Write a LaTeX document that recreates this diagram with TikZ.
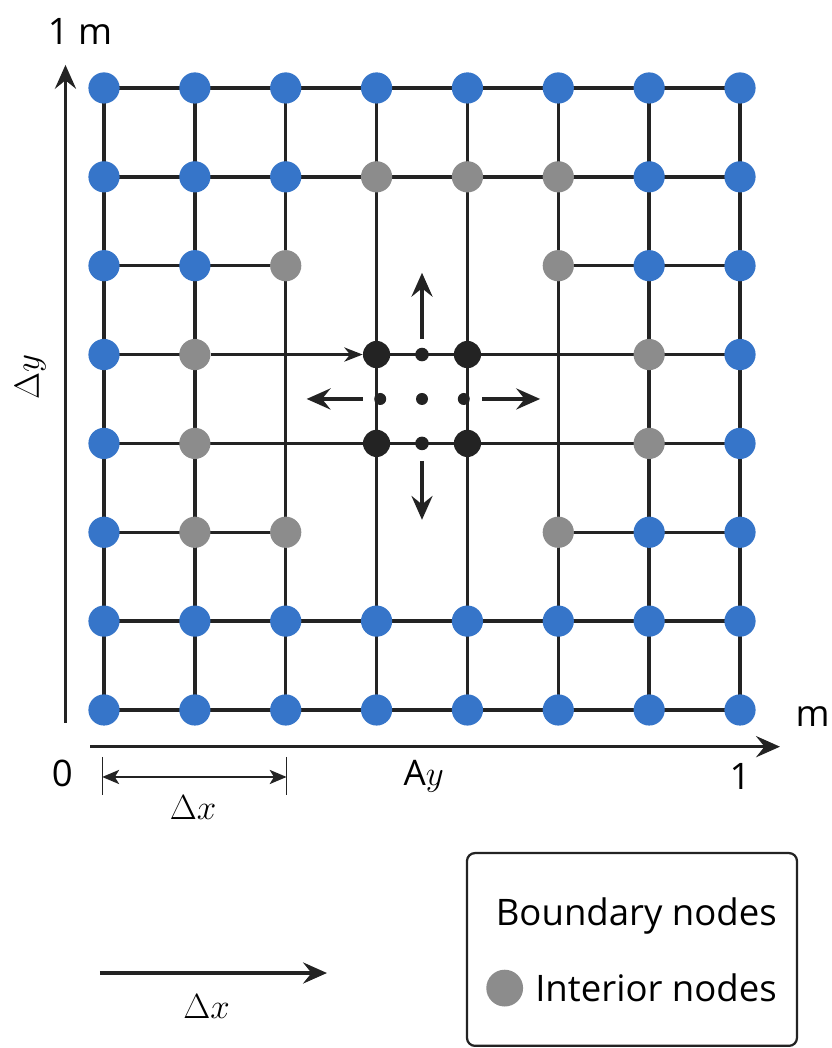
\documentclass[tikz,border=0pt]{standalone}
\usepackage[no-math]{fontspec}
\setmainfont{Open Sans}
\usetikzlibrary{positioning, arrows.meta}

\definecolor{bndblue}{RGB}{54,117,201}
\definecolor{intgray}{RGB}{140,140,140}
\definecolor{inkline}{RGB}{35,35,35}

\tikzset{
  bnd/.style={circle, fill=bndblue, minimum size=0.78cm, inner sep=0pt},
  intr/.style={circle, fill=intgray, minimum size=0.78cm, inner sep=0pt},
  ctr/.style={circle, fill=inkline, minimum size=0.68cm, inner sep=0pt},
  pip/.style={circle, fill=inkline, minimum size=0.34cm, inner sep=0pt},
  gridline/.style={draw=inkline, line width=2.4pt},
  bigtip/.style={-{Stealth[length=17pt, width=15pt, inset=6pt]}},
  smalltip/.style={-{Stealth[length=13pt, width=10pt, inset=4pt]}},
  mathlab/.style={font=\fontsize{25}{29}\selectfont},
}

\begin{document}
\begin{tikzpicture}[x=2.2715cm, y=2.2215cm, font=\fontsize{26}{30}\selectfont]
  \useasboundingbox (-1.1446,-3.804) rectangle (8.012,7.990);

  % grid points and lines
  \foreach \i in {0,...,7}
    \foreach \j in {0,...,7}
      \coordinate (g-\i-\j) at (\i,\j);
  \foreach \i in {0,...,7}
    \draw[gridline] (g-\i-0) -- (g-\i-7);
  \foreach \j in {0,1,3,6,7}
    \draw[gridline] (g-0-\j) -- (g-7-\j);
  \foreach \j in {2,5} {
    \draw[gridline] (g-0-\j) -- (g-2-\j);
    \draw[gridline] (g-5-\j) -- (g-7-\j);
  }
  \draw[gridline] (g-0-4) -- (g-1-4);
  \draw[gridline] (g-3-4) -- (g-7-4);

  % boundary nodes
  \foreach \j in {0,1,7}
    \foreach \i in {0,...,7}
      \node[bnd] (n-\i-\j) at (g-\i-\j) {};
  \foreach \i/\j in {0/6,1/6,2/6,6/6,7/6,0/5,1/5,6/5,7/5,0/4,7/4,0/3,7/3,0/2,6/2,7/2}
    \node[bnd] (n-\i-\j) at (g-\i-\j) {};
  % interior nodes
  \foreach \i/\j in {3/6,4/6,5/6,2/5,5/5,1/4,6/4,1/3,6/3,1/2,2/2,5/2}
    \node[intr] (n-\i-\j) at (g-\i-\j) {};
  % control volume
  \foreach \i/\j in {3/4,4/4,3/3,4/3}
    \node[ctr] (n-\i-\j) at (g-\i-\j) {};
  \draw[gridline, smalltip] (n-1-4) -- (n-3-4);

  \node[pip] (m-t) at (3.5,4) {};
  \node[pip] (m-b) at (3.5,3) {};
  \node[pip, minimum size=0.3cm] (m-l) at (3.04,3.5) {};
  \node[pip, minimum size=0.3cm] (m-c) at (3.5,3.5) {};
  \node[pip, minimum size=0.3cm] (m-r) at (3.96,3.5) {};

  \coordinate (f-up) at (3.5,4.92);
  \coordinate (f-dn) at (3.5,2.14);
  \coordinate (f-lt) at (2.23,3.5);
  \coordinate (f-rt) at (4.80,3.5);
  \draw[gridline, bigtip, shorten <=0.22cm] (m-t) -- (f-up);
  \draw[gridline, bigtip, shorten <=0.26cm] (m-b) -- (f-dn);
  \draw[gridline, bigtip, shorten <=0.28cm] (m-l) -- (f-lt);
  \draw[gridline, bigtip, shorten <=0.3cm] (m-r) -- (f-rt);

  % axes
  \coordinate (ax-o) at (-0.424,-0.146);
  \coordinate (ax-t) at (-0.424,7.26);
  \coordinate (ax-l) at (-0.154,-0.413);
  \coordinate (ax-r) at (7.44,-0.413);
  \draw[gridline, bigtip] (ax-o) -- (ax-t);
  \draw[gridline, bigtip] (ax-l) -- (ax-r);
  \node (ym) at (-0.264,7.64) {1 m};
  \node (xm) at (7.80,-0.07) {m};
  \node (x0) at (-0.46,-0.71) {0};
  \node (x1) at (7.0,-0.75) {1};
  \node[mathlab] (xlab) at (3.52,-0.75) {A$y$};
  \node[mathlab, rotate=90] (ylab) at (-0.81,3.75) {$\Delta y$};

  % spacing dimension
  \coordinate (dx-l) at (-0.02,-0.754);
  \coordinate (dx-r) at (2.01,-0.754);
  \draw[inkline, line width=0.7pt] ([yshift=0.5cm]dx-l) -- ([yshift=-0.45cm]dx-l);
  \draw[inkline, line width=0.7pt] ([yshift=0.5cm]dx-r) -- ([yshift=-0.45cm]dx-r);
  \draw[inkline, line width=1.8pt, {Stealth[length=12pt, width=10pt, inset=3pt]}-{Stealth[length=12pt, width=10pt, inset=3pt]}] (dx-l) -- (dx-r);
  \node[mathlab] (dxlab) at (0.98,-1.10) {$\Delta x$};

  % legend
  \node[draw=inkline, line width=1.6pt, rounded corners=0.2cm,
        minimum width=8.25cm, minimum height=4.82cm] (legend) at (5.811,-2.695) {};
  \node[anchor=base east] (lb) at (7.46,-2.42) {Boundary nodes};
  \node[anchor=base east] (li) at (7.46,-3.28) {Interior nodes};
  \node[intr, minimum size=0.92cm] (lkey) at (4.41,-3.13) {};

  % step arrow
  \coordinate (st-l) at (-0.044,-2.96);
  \coordinate (st-r) at (2.454,-2.96);
  \draw[gridline, bigtip] (st-l) -- (st-r);
  \node[mathlab] (stlab) at (1.13,-3.34) {$\Delta x$};
\end{tikzpicture}
\end{document}
